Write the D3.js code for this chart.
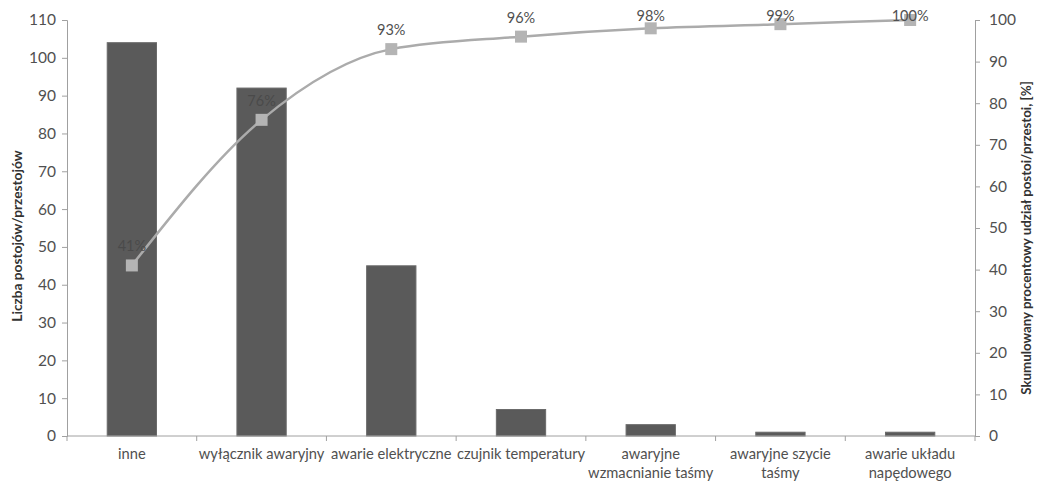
<!DOCTYPE html>
<html>
<head>
<meta charset="utf-8">
<script src="https://cdn.jsdelivr.net/npm/d3@7"></script>
<style>
  html, body { margin: 0; padding: 0; background: #fff; }
  svg { display: block; font-family: Lato, "Open Sans", sans-serif; }
</style>
</head>
<body>
<svg id="chart" width="1040" height="486"></svg>
<script>
// Przyczyny postojów/przestojów (wykres Pareto)
const categories = [
  ["inne"],
  ["wyłącznik awaryjny"],
  ["awarie elektryczne"],
  ["czujnik temperatury"],
  ["awaryjne", "wzmacnianie taśmy"],
  ["awaryjne szycie", "taśmy"],
  ["awarie układu", "napędowego"]
];
const counts = [104, 92, 45, 7, 3, 1, 1];
const cumulativePct = [41, 76, 93, 96, 98, 99, 100];
const leftTicks = [0, 10, 20, 30, 40, 50, 60, 70, 80, 90, 100, 110];
const rightTicks = [0, 10, 20, 30, 40, 50, 60, 70, 80, 90, 100];

const svg = d3.select("#chart");
const plot = { left: 67, right: 975, top: 20, bottom: 436 };

const x = d3.scaleBand()
  .domain(d3.range(categories.length))
  .range([plot.left, plot.right])
  .paddingInner(0.62).paddingOuter(0.31);
const xBand = d3.scaleBand()
  .domain(d3.range(categories.length))
  .range([plot.left, plot.right]);
const yL = d3.scaleLinear().domain([0, 110]).range([plot.bottom, plot.top]);
const yR = d3.scaleLinear().domain([0, 100]).range([plot.bottom, plot.top]);

const axisColor = "#a0a0a0";
const textColor = "#505050";

// bars
svg.append("g").selectAll("rect").data(counts).join("rect")
  .attr("x", (d, i) => x(i))
  .attr("y", d => yL(d))
  .attr("width", x.bandwidth())
  .attr("height", d => yL(0) - yL(d))
  .attr("fill", "#5a5a5a")
  .attr("stroke", "#6a6a6a")
  .attr("stroke-width", 1);

// left axis
const gL = svg.append("g").attr("transform", `translate(${plot.left},0)`)
  .call(d3.axisLeft(yL).tickValues(leftTicks).tickSize(5).tickPadding(6));
// right axis
const gR = svg.append("g").attr("transform", `translate(${plot.right},0)`)
  .call(d3.axisRight(yR).tickValues(rightTicks).tickSize(5).tickPadding(9));
[gL, gR].forEach(g => {
  g.select(".domain").attr("stroke", axisColor);
  g.selectAll(".tick line").attr("stroke", axisColor);
  g.selectAll(".tick text").attr("fill", textColor)
    .style("font-family", "Lato, 'Open Sans', sans-serif").style("font-size", "15.5px");
});

// category axis
const gX = svg.append("g").attr("transform", `translate(0,${plot.bottom})`);
gX.append("line").attr("x1", plot.left).attr("x2", plot.right)
  .attr("stroke", axisColor);
gX.selectAll("line.tick").data(d3.range(categories.length + 1)).join("line")
  .attr("class", "tick")
  .attr("x1", i => plot.left + i * xBand.step())
  .attr("x2", i => plot.left + i * xBand.step())
  .attr("y1", 0).attr("y2", 5).attr("stroke", axisColor);
const catText = gX.selectAll("text").data(categories).join("text")
  .attr("x", (d, i) => xBand(i) + xBand.bandwidth() / 2)
  .attr("y", 23)
  .attr("text-anchor", "middle")
  .attr("fill", textColor)
  .style("font-size", "14.7px");
catText.selectAll("tspan").data(d => d).join("tspan")
  .attr("x", function () { return this.parentNode.getAttribute("x"); })
  .attr("dy", (d, i) => i === 0 ? 0 : 19)
  .text(d => d);

// cumulative line
const cx = i => xBand(i) + xBand.bandwidth() / 2;
const line = d3.line()
  .x((d, i) => cx(i))
  .y(d => yR(d))
  .curve(d3.curveMonotoneX);
svg.append("path").datum(cumulativePct)
  .attr("d", line)
  .attr("fill", "none")
  .attr("stroke", "#ababab")
  .attr("stroke-width", 2.5);
svg.append("g").selectAll("rect").data(cumulativePct).join("rect")
  .attr("x", (d, i) => cx(i) - 6)
  .attr("y", d => yR(d) - 6)
  .attr("width", 12).attr("height", 12)
  .attr("fill", "#b4b4b4");

// percentage labels
svg.append("g").selectAll("text").data(cumulativePct).join("text")
  .attr("x", (d, i) => cx(i))
  .attr("y", d => Math.max(yR(d) - 14, 21))
  .attr("text-anchor", "middle")
  .attr("fill", (d, i) => i < 2 ? "#4a4a4a" : textColor)
  .style("font-size", "14.5px")
  .text(d => d + "%");

// axis titles
svg.append("text")
  .attr("transform", `translate(22,${(plot.top + plot.bottom) / 2 + 8}) rotate(-90)`)
  .attr("text-anchor", "middle")
  .attr("fill", "#333")
  .style("font-size", "13.7px").style("font-weight", "bold")
  .text("Liczba postojów/przestojów");
svg.append("text")
  .attr("transform", `translate(1031,${(plot.top + plot.bottom) / 2 + 10}) rotate(-90)`)
  .attr("text-anchor", "middle")
  .attr("fill", "#333")
  .style("font-size", "13.3px").style("font-weight", "bold")
  .text("Skumulowany procentowy udział postoi/przestoi, [%]");
</script>
</body>
</html>
